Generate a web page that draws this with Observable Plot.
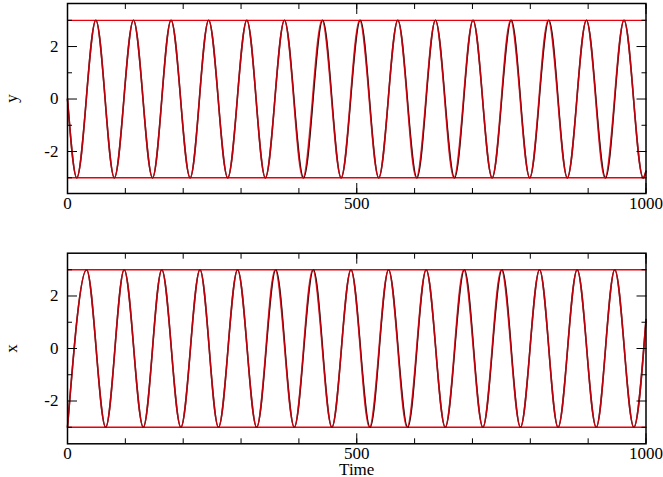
<!DOCTYPE html>
<html>
<head>
<meta charset="utf-8">
<script src="https://cdn.jsdelivr.net/npm/d3@7"></script>
<script src="https://cdn.jsdelivr.net/npm/@observablehq/plot@0.6"></script>
<style>
  html, body { margin: 0; padding: 0; background: #fff; }
  #chart svg { display: block; font-family: "Liberation Serif", "Times New Roman", serif !important; font-size: 17px !important; }
  #chart svg text { font-family: "Liberation Serif", "Times New Roman", serif !important; font-size: 17px !important; fill: #000; }
</style>
</head>
<body>
<div id="chart"></div>
<script>
// ---- data (extrema of the oscillations) ----
const yRedT   = [0,16,49,81,114,147,179,212,244,277,310,342,375,407,440,473,505,538,571,603,636,668,701,734,766,799,831,864,897,929,962,995,1000];
const yRedV   = [0,-3,3,-3,3,-3,3,-3,3,-3,3,-3,3,-3,3,-3,3,-3,3,-3,3,-3,3,-3,3,-3,3,-3,3,-3,3,-3,-2.75];
const yBlackT = [0,16,49,81,114,147,179,212,244,277,310,342,375,408,441,473,506,538,571,604,636,669,701,734,767,799,832,864,897,930,962,995,1000];
const yBlackV = [0,-3,3,-3,3,-3,3,-3,3,-3,3,-3,3,-3,3,-3,3,-3,3,-3,3,-3,3,-3,3,-3,3,-3,3,-3,3,-3,-2.75];

const xRedT   = [0,33,66,98,131,163,196,229,261,294,327,359,392,424,457,490,522,555,587,620,653,685,718,750,783,816,848,881,914,946,979,1000];
const xRedV   = [-3,3,-3,3,-3,3,-3,3,-3,3,-3,3,-3,3,-3,3,-3,3,-3,3,-3,3,-3,3,-3,3,-3,3,-3,3,-3,1.1];
const xBlackT = [0,33,66,98,131,163,196,229,261,294,327,360,392,425,457,490,523,555,588,620,653,686,718,751,783,816,848,881,914,946,979,1000];
const xBlackV = [-3,3,-3,3,-3,3,-3,3,-3,3,-3,3,-3,3,-3,3,-3,3,-3,3,-3,3,-3,3,-3,3,-3,3,-3,3,-3,1.1];

const bounds = [-3, 3];
const xMinorTicks = [0,100,200,300,400,500,600,700,800,900,1000];
const xMajorTicks = [0,500,1000];
const yMinorTicks = [-3,-1,1,3];
const yMajorTicks = [-2,0,2];

const RED = "#e8000c";
const rows = (T, V) => T.map((t, i) => ({t, v: V[i]}));

function panel({red, black, label, height, marginTop, marginBottom, yDomain, xLabel}) {
  const tickFmt = d => String(d);
  return Plot.plot({
    width: 663,
    height,
    marginTop,
    marginBottom,
    marginLeft: 67,
    marginRight: 17.5,
    style: {background: "#fff", color: "#000"},
    x: {domain: [0, 1000]},
    y: {domain: yDomain},
    marks: [
      Plot.ruleY(bounds, {stroke: RED, strokeWidth: 1.3}),
      Plot.line(black, {x: "t", y: "v", curve: "monotone-x", stroke: "#000", strokeWidth: 1.5}),
      Plot.line(red, {x: "t", y: "v", curve: "monotone-x", stroke: RED, strokeWidth: 1.6, strokeOpacity: 0.8}),
      Plot.frame({stroke: "#000", strokeWidth: 1.5}),
      // inward ticks on all four sides
      Plot.axisX(xMinorTicks, {anchor: "bottom", tickSize: -5, text: null, label: null}),
      Plot.axisX(xMajorTicks, {anchor: "bottom", tickSize: -10, text: null, label: null}),
      Plot.axisX(xMinorTicks, {anchor: "top", tickSize: -5, text: null, label: null}),
      Plot.axisX(xMajorTicks, {anchor: "top", tickSize: -10, text: null, label: null}),
      Plot.axisY(yMinorTicks, {anchor: "left", tickSize: -5, text: null, label: null}),
      Plot.axisY(yMajorTicks, {anchor: "left", tickSize: -10, text: null, label: null}),
      Plot.axisY(yMinorTicks, {anchor: "right", tickSize: -5, text: null, label: null}),
      Plot.axisY(yMajorTicks, {anchor: "right", tickSize: -10, text: null, label: null}),
      // tick labels
      Plot.axisX(xMajorTicks, {anchor: "bottom", tickSize: 0, tickPadding: 3, tickFormat: tickFmt,
        label: xLabel, labelAnchor: "center", labelArrow: "none", labelOffset: 31}),
      Plot.axisY(yMajorTicks, {anchor: "left", tickSize: 0, tickPadding: 9, tickFormat: tickFmt,
        label, labelAnchor: "center", labelArrow: "none", labelOffset: 63})
    ]
  });
}

const topPanel = panel({
  red: rows(yRedT, yRedV), black: rows(yBlackT, yBlackV), label: "y",
  height: 240, marginTop: 3, marginBottom: 47, yDomain: [-3.6, 3.64], xLabel: null
});
const bottomPanel = panel({
  red: rows(xRedT, xRedV), black: rows(xBlackT, xBlackV), label: "x",
  height: 237, marginTop: 12.7, marginBottom: 33.7, yDomain: [-3.63, 3.63], xLabel: "Time"
});
document.getElementById("chart").append(topPanel, bottomPanel);
</script>
</body>
</html>
